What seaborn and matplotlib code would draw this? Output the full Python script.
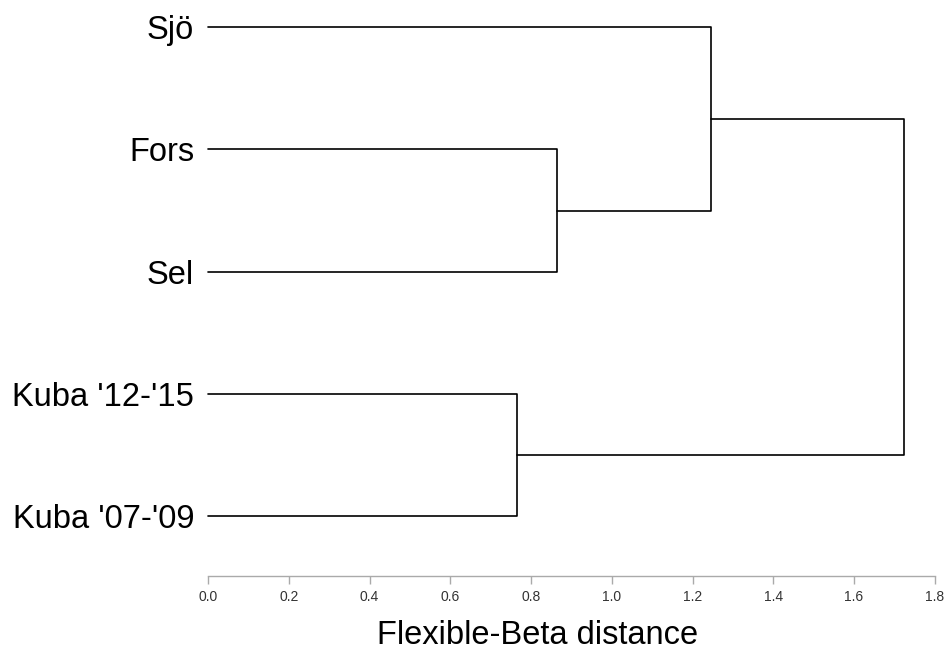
import matplotlib
matplotlib.use("Agg")
import matplotlib.pyplot as plt
import numpy as np
import pandas as pd
import seaborn as sns

# Leaves, top to bottom
leaves = ["Sjö", "Fors", "Sel", "Kuba '12-'15", "Kuba '07-'09"]

# Merge steps: (left member, right member, height)
merge_left = ["Fors", "Kuba '12-'15", "Sjö", "Sjö+Fors+Sel"]
merge_right = ["Sel", "Kuba '07-'09", "Fors+Sel", "Kuba '12-'15+Kuba '07-'09"]
merge_height = [0.864, 0.766, 1.245, 1.723]
merge_name = ["Fors+Sel", "Kuba '12-'15+Kuba '07-'09", "Sjö+Fors+Sel", "root"]

tick_values = [0.0, 0.2, 0.4, 0.6, 0.8, 1.0, 1.2, 1.4, 1.6, 1.8]
x_title = "Flexible-Beta distance"

# Node coordinates: leaves sit at distance 0, merges at their height,
# vertically centred between their two members
node_x = {name: 0.0 for name in leaves}
node_y = {name: float(i) for i, name in enumerate(leaves)}

rows = []
for k, (a, b, h, name) in enumerate(zip(merge_left, merge_right, merge_height, merge_name)):
    xa, ya = node_x[a], node_y[a]
    xb, yb = node_x[b], node_y[b]
    for x, y in [(xa, ya), (h, ya), (h, yb), (xb, yb)]:
        rows.append({"seg": k, "x": x, "y": y})
    node_x[name] = h
    node_y[name] = (ya + yb) / 2.0
segments = pd.DataFrame(rows)

sns.set_theme(style="white")
plt.rcParams["font.family"] = ["Liberation Sans", "DejaVu Sans"]

W, H = 947, 651
fig = plt.figure(figsize=(W / 100, H / 100), dpi=100)
ax = fig.add_axes([208 / W, 75 / H, 726.75 / W, 573 / H])

sns.lineplot(data=segments, x="x", y="y", units="seg", estimator=None,
             sort=False, color="black", linewidth=1.2, ax=ax,
             legend=False, clip_on=False)

ax.set_xlim(0, 1.8)
ax.set_ylim(4.494, -0.2)

for side in ["top", "right", "left"]:
    ax.spines[side].set_visible(False)
ax.spines["bottom"].set_color("#aaaaaa")
ax.spines["bottom"].set_linewidth(1.0)

ax.set_xticks(tick_values)
ax.set_xticklabels([f"{v:.1f}" for v in tick_values])
ax.tick_params(axis="x", direction="out", length=6, width=1.0,
               color="#aaaaaa", labelsize=10, labelcolor="#333333", pad=4,
               bottom=True)

ax.set_yticks(range(len(leaves)))
ax.set_yticklabels(leaves)
ax.tick_params(axis="y", length=0, labelsize=23.5, labelcolor="black", pad=10)

ax.set_xlabel(x_title, fontsize=23.5, color="black")
ax.xaxis.set_label_coords((537.5 - 208) / 726.75, -(635 - 576) / 573)
ax.xaxis.label.set_verticalalignment("center")
ax.set_ylabel("")
ax.grid(False)

fig.savefig("out.png", dpi=100)
